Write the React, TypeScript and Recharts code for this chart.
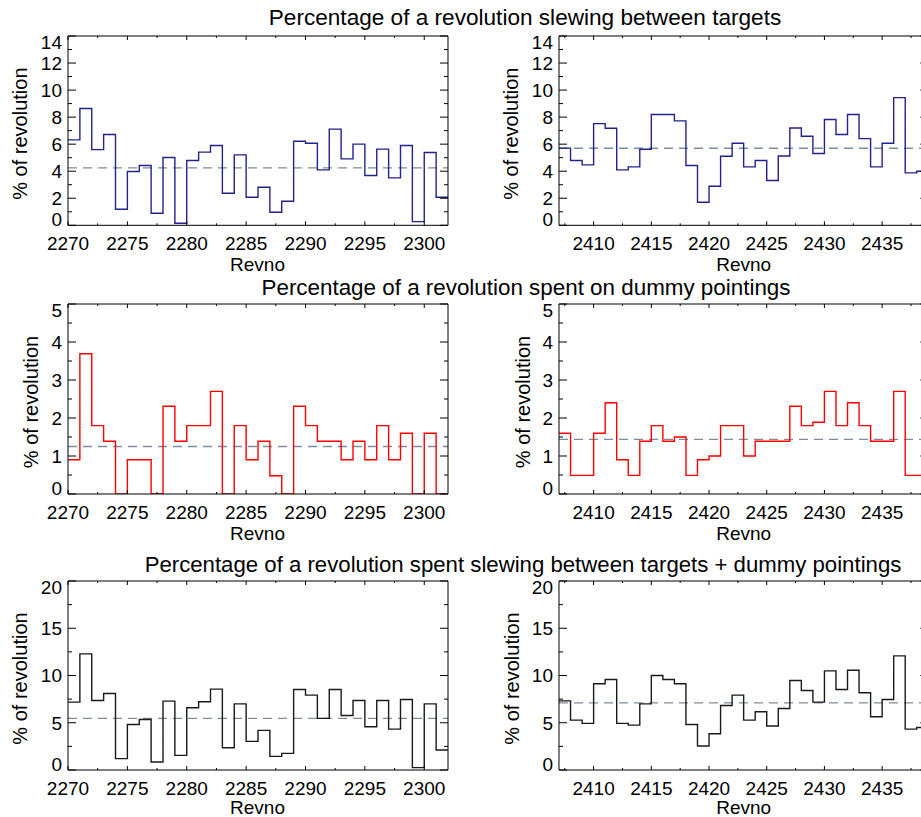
import React from "react";
import { LineChart, Line, XAxis, YAxis, ReferenceLine } from "recharts";

// step edges (revno), one more edge than values
const revnoEarly = [
  2270, 2271, 2272, 2273, 2274, 2275, 2276, 2277, 2278, 2279, 2280, 2281, 2282, 2283, 2284, 2285, 2286,
  2287, 2288, 2289, 2290, 2291, 2292, 2293, 2294, 2295, 2296, 2297, 2298, 2299, 2300, 2301, 2302
];
const revnoLate = [
  2407, 2408, 2409, 2410, 2411, 2412, 2413, 2414, 2415, 2416, 2417, 2418, 2419, 2420, 2421, 2422, 2423,
  2424, 2425, 2426, 2427, 2428, 2429, 2430, 2431, 2432, 2433, 2434, 2435, 2436, 2437, 2438, 2439
];

const slewEarly = [
  6.32, 8.64, 5.6, 6.72, 1.19, 3.98, 4.42, 0.89, 5.01, 0.15, 4.79, 5.41, 5.9, 2.37, 5.21, 2.07, 2.81,
  0.96, 1.78, 6.22, 6.07, 4.1, 7.11, 4.91, 6.0, 3.68, 5.63, 3.51, 5.9, 0.27, 5.38, 2.07
];
const slewLate = [
  5.71, 4.79, 4.47, 7.52, 7.18, 4.1, 4.32, 5.62, 8.19, 8.19, 7.72, 4.42, 1.71, 2.89, 5.11, 6.07, 4.32,
  4.79, 3.31, 5.13, 7.2, 6.59, 5.31, 7.82, 6.71, 8.19, 6.41, 4.32, 6.07, 9.44, 3.88, 4.0
];
const dummyEarly = [
  0.9, 3.69, 1.8, 1.39, 0, 0.9, 0.9, 0, 2.31, 1.39, 1.8, 1.8, 2.7, 0, 1.8, 0.9, 1.39, 0.48, 0, 2.31,
  1.8, 1.39, 1.39, 0.9, 1.39, 0.9, 1.8, 0.9, 1.6, 0, 1.6, 0
];
const dummyLate = [
  1.6, 0.49, 0.49, 1.6, 2.4, 0.9, 0.49, 1.39, 1.8, 1.39, 1.5, 0.49, 0.9, 1.0, 1.8, 1.8, 1.0, 1.39, 1.39,
  1.39, 2.31, 1.8, 1.89, 2.7, 1.8, 2.4, 1.8, 1.39, 1.39, 2.7, 0.49, 0.49
];
const totalEarly = [
  7.18, 12.29, 7.36, 8.1, 1.2, 4.82, 5.35, 0.85, 7.29, 1.55, 6.58, 7.22, 8.56, 2.36, 7.0, 3.03, 4.19,
  1.44, 1.76, 8.52, 7.92, 5.46, 8.52, 5.77, 7.36, 4.58, 7.36, 4.33, 7.46, 0.25, 7.0, 2.11
];
const totalLate = [
  7.32, 5.28, 4.93, 9.12, 9.58, 4.93, 4.75, 7.0, 10.0, 9.58, 9.12, 4.82, 2.54, 3.84, 6.83, 7.92, 5.28,
  6.16, 4.65, 6.51, 9.47, 8.42, 7.18, 10.49, 8.52, 10.56, 8.17, 5.63, 7.46, 12.08, 4.33, 4.5
];

const slewMeanEarly = 4.25;
const slewMeanLate = 5.7;
const dummyMeanEarly = 1.25;
const dummyMeanLate = 1.44;
const totalMeanEarly = 5.46;
const totalMeanLate = 7.11;

const xTicksEarly = [2270, 2272.5, 2275, 2277.5, 2280, 2282.5, 2285, 2287.5, 2290, 2292.5, 2295, 2297.5, 2300];
const xTicksLate = [2407.5, 2410, 2412.5, 2415, 2417.5, 2420, 2422.5, 2425, 2427.5, 2430, 2432.5, 2435, 2437.5];
const yTicksSlew = [0, 1, 2, 3, 4, 5, 6, 7, 8, 9, 10, 11, 12, 13, 14];
const yTicksDummy = [0, 0.5, 1, 1.5, 2, 2.5, 3, 3.5, 4, 4.5, 5];
const yTicksTotal = [0, 2.5, 5, 7.5, 10, 12.5, 15, 17.5, 20];

const titles = [
  "Percentage of a revolution slewing between targets",
  "Percentage of a revolution spent on dummy pointings",
  "Percentage of a revolution spent slewing between targets + dummy pointings"
];

const FONT = "'Liberation Sans', Arial, Helvetica, sans-serif";
// outer space round each plot box; axes take 1px of it
const M = { top: 20, right: 10, bottom: 60, left: 70 };
const chartMargin = { top: M.top - 1, right: M.right - 1, bottom: M.bottom - 1, left: M.left - 1 };

const toSteps = (edges: number[], values: number[]) =>
  edges.map((x, i) => ({ x, v: values[Math.min(i, values.length - 1)] }));

const isMult = (v: number, step: number) => Math.abs(v / step - Math.round(v / step)) < 1e-6;

function XTick(props: any) {
  const { x, y, payload, side } = props;
  const v = payload.value;
  const major = isMult(v, 5);
  const len = major ? 4 : 2;
  const dir = side === "bottom" ? -1 : 1;
  return (
    <g>
      <line x1={x} y1={y} x2={x} y2={y + dir * len} stroke="#000" strokeWidth={1} />
      {side === "bottom" && major && (
        <text x={x} y={y + 25} textAnchor="middle" fontSize={19} fontFamily={FONT} fill="#000">
          {v}
        </text>
      )}
    </g>
  );
}

function YTick(props: any) {
  const { x, y, payload, side, step, lo, hi } = props;
  const v = payload.value;
  const major = isMult(v, step);
  const len = major ? 8 : 4;
  const dir = side === "left" ? 1 : -1;
  const shift = v === lo ? -6 : v === hi ? 6 : 0;
  return (
    <g>
      <line x1={x} y1={y} x2={x + dir * len} y2={y} stroke="#000" strokeWidth={1} />
      {side === "left" && major && (
        <text x={x - 6} y={y + shift} dy="0.36em" textAnchor="end" fontSize={19} fontFamily={FONT} fill="#000">
          {v}
        </text>
      )}
    </g>
  );
}

type PanelProps = {
  left: number;
  top: number;
  width: number;
  height: number;
  edges: number[];
  values: number[];
  mean: number;
  color: string;
  xTicks: number[];
  yTicks: number[];
  yStep: number;
};

function Panel(p: PanelProps) {
  const xDomain = [p.edges[0], p.edges[p.edges.length - 1]];
  const yDomain = [p.yTicks[0], p.yTicks[p.yTicks.length - 1]];
  const axisLine = { stroke: "#000", strokeWidth: 1 };
  return (
    <div style={{ position: "absolute", left: p.left - M.left, top: p.top - M.top }}>
      <LineChart
        width={p.width + M.left + M.right}
        height={p.height + M.top + M.bottom}
        data={toSteps(p.edges, p.values)}
        margin={chartMargin}
      >
        <XAxis
          type="number"
          dataKey="x"
          domain={xDomain}
          ticks={p.xTicks}
          interval={0}
          height={1}
          tickSize={0}
          tickMargin={0}
          tickLine={false}
          axisLine={axisLine}
          allowDataOverflow
          tick={(t: any) => <XTick {...t} side="bottom" />}
        />
        <XAxis
          xAxisId="top"
          orientation="top"
          type="number"
          dataKey="x"
          domain={xDomain}
          ticks={p.xTicks}
          interval={0}
          height={1}
          tickSize={0}
          tickMargin={0}
          tickLine={false}
          axisLine={axisLine}
          allowDataOverflow
          tick={(t: any) => <XTick {...t} side="top" />}
        />
        <YAxis
          type="number"
          domain={yDomain}
          ticks={p.yTicks}
          interval={0}
          width={1}
          tickSize={0}
          tickMargin={0}
          tickLine={false}
          axisLine={axisLine}
          allowDataOverflow
          tick={(t: any) => <YTick {...t} side="left" step={p.yStep} lo={yDomain[0]} hi={yDomain[1]} />}
        />
        <YAxis
          yAxisId="right"
          orientation="right"
          type="number"
          domain={yDomain}
          ticks={p.yTicks}
          interval={0}
          width={1}
          tickSize={0}
          tickMargin={0}
          tickLine={false}
          axisLine={axisLine}
          allowDataOverflow
          tick={(t: any) => <YTick {...t} side="right" step={p.yStep} lo={yDomain[0]} hi={yDomain[1]} />}
        />
        <ReferenceLine y={p.mean} stroke="#7f8c9c" strokeWidth={1.3} strokeDasharray="9 6" />
        <Line
          type="stepAfter"
          dataKey="v"
          stroke={p.color}
          strokeWidth={1.4}
          dot={false}
          activeDot={false}
          isAnimationActive={false}
        />
      </LineChart>
    </div>
  );
}

const LEFT_X = 67.5;
const LEFT_W = 380;
const RIGHT_X = 559;
const RIGHT_W = 369.3;
const ROWS = [
  { top: 36, height: 189.3 },
  { top: 304, height: 190 },
  { top: 581, height: 189 }
];

const BLUE = "#22228c";
const RED = "#ff0000";
const BLACK = "#1a1a1a";

export default function App() {
  const yTitleX = [
    [LEFT_X - 40.5, RIGHT_X - 40.5],
    [LEFT_X - 29.5, RIGHT_X - 29.5],
    [LEFT_X - 40.5, RIGHT_X - 40.5]
  ];
  const titleX = [525, 526, 523];
  const titleY = [25, 295, 572];
  const titleSize = [22.6, 22.4, 22.2];
  return (
    <div
      style={{
        position: "fixed",
        left: 0,
        top: 0,
        width: 921,
        height: 817,
        overflow: "hidden",
        background: "#fff"
      }}
    >
      <Panel left={LEFT_X} top={ROWS[0].top} width={LEFT_W} height={ROWS[0].height} edges={revnoEarly}
        values={slewEarly} mean={slewMeanEarly} color={BLUE} xTicks={xTicksEarly} yTicks={yTicksSlew} yStep={2} />
      <Panel left={RIGHT_X} top={ROWS[0].top} width={RIGHT_W} height={ROWS[0].height} edges={revnoLate}
        values={slewLate} mean={slewMeanLate} color={BLUE} xTicks={xTicksLate} yTicks={yTicksSlew} yStep={2} />
      <Panel left={LEFT_X} top={ROWS[1].top} width={LEFT_W} height={ROWS[1].height} edges={revnoEarly}
        values={dummyEarly} mean={dummyMeanEarly} color={RED} xTicks={xTicksEarly} yTicks={yTicksDummy} yStep={1} />
      <Panel left={RIGHT_X} top={ROWS[1].top} width={RIGHT_W} height={ROWS[1].height} edges={revnoLate}
        values={dummyLate} mean={dummyMeanLate} color={RED} xTicks={xTicksLate} yTicks={yTicksDummy} yStep={1} />
      <Panel left={LEFT_X} top={ROWS[2].top} width={LEFT_W} height={ROWS[2].height} edges={revnoEarly}
        values={totalEarly} mean={totalMeanEarly} color={BLACK} xTicks={xTicksEarly} yTicks={yTicksTotal} yStep={5} />
      <Panel left={RIGHT_X} top={ROWS[2].top} width={RIGHT_W} height={ROWS[2].height} edges={revnoLate}
        values={totalLate} mean={totalMeanLate} color={BLACK} xTicks={xTicksLate} yTicks={yTicksTotal} yStep={5} />

      <svg
        width={921}
        height={817}
        style={{ position: "absolute", left: 0, top: 0, pointerEvents: "none" }}
        fontFamily={FONT}
        fill="#000"
      >
        {titles.map((t, i) => (
          <text key={t} x={titleX[i]} y={titleY[i]} textAnchor="middle" fontSize={titleSize[i]}>
            {t}
          </text>
        ))}
        {ROWS.map((r, i) => (
          <g key={i}>
            <text x={LEFT_X + LEFT_W / 2} y={Math.min(r.top + r.height + 46, 814)} textAnchor="middle" fontSize={19}>
              Revno
            </text>
            <text x={RIGHT_X + RIGHT_W / 2} y={Math.min(r.top + r.height + 46, 814)} textAnchor="middle" fontSize={19}>
              Revno
            </text>
            {yTitleX[i].map((x, j) => {
              const y = r.top + r.height / 2 + 3;
              return (
                <text key={j} x={x} y={y} textAnchor="middle" fontSize={20} transform={`rotate(-90 ${x} ${y})`}>
                  % of revolution
                </text>
              );
            })}
          </g>
        ))}
      </svg>
    </div>
  );
}
